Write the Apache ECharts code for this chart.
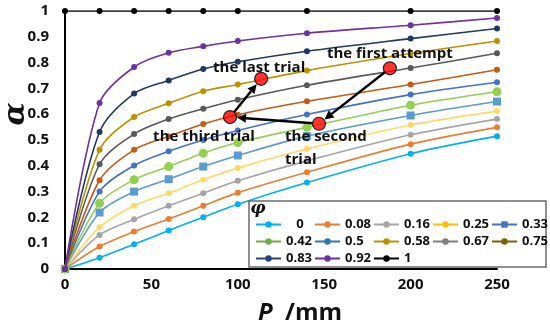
<!DOCTYPE html>
<html><head><meta charset="utf-8">
<script src="https://cdn.jsdelivr.net/npm/echarts@6/dist/echarts.min.js"></script>
<style>html,body{margin:0;padding:0;background:#fff}#c{width:550px;height:323px}</style>
</head><body><div id="c"></div>
<script>
// ---- data ----
const xValues = [0, 20, 40, 60, 80, 100, 140, 200, 250];
const phiNames = ['0','0.08','0.16','0.25','0.33','0.42','0.5','0.58','0.67','0.75','0.83','0.92','1'];
const a000 = [0,0.044,0.096,0.149,0.201,0.251,0.335,0.447,0.515];
const a008 = [0,0.087,0.145,0.194,0.245,0.296,0.375,0.484,0.549];
const a016 = [0,0.132,0.193,0.245,0.294,0.342,0.419,0.520,0.581];
const a025 = [0,0.162,0.245,0.294,0.346,0.391,0.465,0.558,0.612];
const a033 = [0,0.219,0.300,0.348,0.397,0.440,0.515,0.595,0.649];
const a042 = [0,0.255,0.346,0.397,0.449,0.490,0.549,0.635,0.687];
const a050 = [0,0.300,0.401,0.456,0.500,0.537,0.599,0.676,0.724];
const a058 = [0,0.344,0.462,0.514,0.562,0.598,0.650,0.715,0.772];
const a067 = [0,0.406,0.523,0.581,0.621,0.656,0.712,0.779,0.836];
const a075 = [0,0.462,0.589,0.642,0.689,0.715,0.769,0.835,0.884];
const a083 = [0,0.531,0.680,0.731,0.775,0.803,0.844,0.893,0.932];
const a092 = [0,0.643,0.783,0.838,0.863,0.884,0.914,0.945,0.973];
const a100 = [1,1,1,1,1,1,1,1,1];
const seriesValues = [a000,a008,a016,a025,a033,a042,a050,a058,a067,a075,a083,a092,a100];
const trialNames = ['the first attempt','the second\ntrial','the third trial','the last trial'];
const trialP = [188, 147, 95.5, 113.5];
const trialAlpha = [0.778, 0.563, 0.589, 0.737];

// ---- styles ----
const lineColors = ['#00B0F0','#ED7D31','#A5A5A5','#FFD966','#5B9BD5','#92D050','#4472C4','#C55A11','#595959','#BF9000','#203864','#7030A0','#000000'];
const legendColors = ['#00B0F0','#ED7D31','#A5A5A5','#FFC000','#4472C4','#70AD47','#2E75B6','#BF9000','#7F7F7F','#7F6000','#264478','#7030A0','#000000'];
const symbols = ['circle','circle','circle','circle','rect','circle','circle','circle','circle','circle','circle','circle','circle'];
const symbolSizes = [6,6,6,6,8,9,6,6,6,6,6,6,6];
const FONT = 'Open Sans';

const chart = echarts.init(document.getElementById('c'));
const series = seriesValues.map((vals, i) => ({
  name: phiNames[i],
  type: 'line',
  smooth: 0.3,
  data: xValues.map((x, j) => [x, vals[j]]),
  symbol: symbols[i],
  symbolSize: symbolSizes[i],
  showSymbol: true,
  lineStyle: {color: lineColors[i], width: 1.6},
  itemStyle: {color: lineColors[i]},
  z: 2 + i * 0.01,
  animation: false
}));
series.push({
  type: 'scatter',
  data: trialP.map((p, i) => [p, trialAlpha[i]]),
  symbolSize: 13,
  itemStyle: {color: '#FF0000', borderColor: '#000', borderWidth: 1.2},
  z: 6,
  animation: false
});

const staticGraphics = [
  {type: 'rect', shape: {x: 249, y: 201, width: 297, height: 66}, style: {fill: '#fff', stroke: '#6b6b6b', lineWidth: 1.5}, z: 8},
  {type: 'text', x: 258, y: 209, style: {text: 'φ', fontFamily: 'DejaVu Serif', fontStyle: 'italic', fontWeight: 'bold', fontSize: 17, fill: '#111', textAlign: 'center', textVerticalAlign: 'middle'}, z: 9},
  {type: 'text', x: 16, y: 114, rotation: Math.PI / 2, style: {text: 'α', fontFamily: 'DejaVu Serif', fontStyle: 'italic', fontWeight: 'bold', fontSize: 30, fill: '#111', textAlign: 'center', textVerticalAlign: 'middle'}, z: 9},
  {type: 'text', x: 258, y: 313, style: {text: '{p|P}{m|  /mm}', rich: {p: {fontFamily: FONT, fontStyle: 'italic', fontWeight: 'bold', fontSize: 24, fill: '#111'}, m: {fontFamily: FONT, fontWeight: 'bold', fontSize: 24, fill: '#111'}}, textVerticalAlign: 'middle'}, z: 9}
];

chart.setOption({
  animation: false,
  grid: {left: 65, right: 53, top: 11, bottom: 54},
  xAxis: {
    type: 'value', min: 0, max: 250, interval: 50,
    axisLine: {show: true, lineStyle: {color: '#000', width: 2}},
    axisTick: {show: false}, splitLine: {show: false},
    axisLabel: {fontFamily: FONT, fontWeight: 'bold', fontSize: 15, color: '#111', margin: 8}
  },
  yAxis: {
    type: 'value', min: 0, max: 1, interval: 0.1,
    axisLine: {show: true, lineStyle: {color: '#000', width: 2}},
    axisTick: {show: false}, splitLine: {show: false},
    axisLabel: {fontFamily: FONT, fontWeight: 'bold', fontSize: 15, color: '#111', margin: 16,
      formatter: v => String(Math.round(v * 10) / 10)}
  },
  legend: {
    left: 250, top: 211, width: 295,
    itemWidth: 25, itemHeight: 8, itemGap: 0,
    textStyle: {fontFamily: FONT, fontWeight: 'bold', fontSize: 13, color: '#111', width: 28, lineHeight: 17},
    formatter: n => n === '0' ? '   0' : n,
    data: phiNames.map((n, i) => ({
      name: n,
      itemStyle: {color: legendColors[i]},
      lineStyle: {color: legendColors[i], width: 2}
    })),
    z: 10
  },
  graphic: staticGraphics,
  series: series
});

// annotations: texts and arrows placed through the chart's scales
const txtStyle = {fontFamily: FONT, fontWeight: 'bold', fontSize: 15, fill: '#111'};
const labelOffsets = [[0, -15], [-34, 24.5], [-26, 20], [-2, -11]];
const labelAlign = ['center', 'left', 'center', 'center'];
const g = [];
trialNames.forEach((t, i) => {
  const p = chart.convertToPixel({gridIndex: 0}, [trialP[i], trialAlpha[i]]);
  g.push({type: 'text', x: p[0] + labelOffsets[i][0], y: p[1] + labelOffsets[i][1],
    style: Object.assign({text: t, textAlign: labelAlign[i], textVerticalAlign: 'middle', lineHeight: 23}, txtStyle), z: 5});
});
const arrows = [[0, 1], [1, 2], [2, 3]];
arrows.forEach(([a, b]) => {
  const p1 = chart.convertToPixel({gridIndex: 0}, [trialP[a], trialAlpha[a]]);
  const p2 = chart.convertToPixel({gridIndex: 0}, [trialP[b], trialAlpha[b]]);
  const dx = p2[0] - p1[0], dy = p2[1] - p1[1];
  const L = Math.hypot(dx, dy), ux = dx / L, uy = dy / L;
  const s = [p1[0] + ux * 6, p1[1] + uy * 6];
  const e = [p2[0] - ux * 7, p2[1] - uy * 7];
  const hl = 9, hw = 4.5;
  const base = [e[0] - ux * hl, e[1] - uy * hl];
  g.push({type: 'line', shape: {x1: s[0], y1: s[1], x2: base[0], y2: base[1]}, style: {stroke: '#000', lineWidth: 2.4}, z: 7});
  g.push({type: 'polygon', shape: {points: [e, [base[0] - uy * hw, base[1] + ux * hw], [base[0] + uy * hw, base[1] - ux * hw]]}, style: {fill: '#000'}, z: 7});
});
chart.setOption({graphic: staticGraphics.concat(g)}, {replaceMerge: ['graphic']});
</script></body></html>
